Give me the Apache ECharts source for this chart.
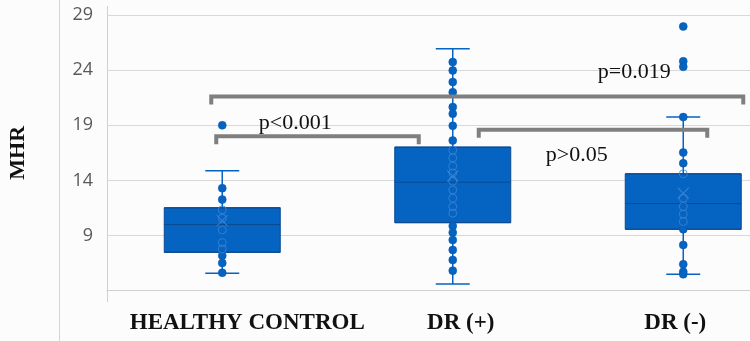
<!DOCTYPE html>
<html>
<head>
<meta charset="utf-8">
<script src="https://cdn.jsdelivr.net/npm/echarts@6/dist/echarts.min.js"></script>
<style>
  html, body { margin: 0; padding: 0; background: #fcfcfc; }
  #main { width: 750px; height: 341px; }
</style>
</head>
<body>
<div id="main"></div>
<script>
// groups on the x axis
var categories = ['HEALTHY CONTROL', 'DR (+)', 'DR (-)'];
var yTicks = [9, 14, 19, 24, 29];

// box plot summary per group (whisker low, q1, median, q3, whisker high)
var whiskerLow = [5.58, 4.61, 5.49];
var q1 = [7.48, 10.17, 9.57];
var median = [10.0, 13.84, 11.9];
var q3 = [11.52, 17.02, 14.6];
var whiskerHigh = [14.87, 25.94, 19.74];
var means = [10.35, 14.4, 12.84];

// individual MHR values
var healthyPts = [19.0, 13.3, 12.26, 11.33, 10.57, 9.51, 8.36, 7.79, 7.18, 6.51, 5.63];
var drPlusPts = [24.73, 23.97, 22.92, 22.0, 20.65, 20.04, 18.95, 17.62, 16.74, 16.05, 15.29, 14.68,
                 13.93, 13.14, 12.39, 11.63, 11.03, 9.87, 9.27, 8.6, 7.7, 6.79, 5.82];
var drMinusPts = [27.96, 24.8, 24.3, 19.74, 16.53, 15.56, 14.6, 12.39, 11.63, 10.94, 10.27, 9.57,
                  8.15, 6.4, 5.72, 5.49];

// significance brackets
var bracketFrom = [0, 0, 1];
var bracketTo = [1, 2, 2];
var bracketY = [18.0, 21.6, 18.6];
var bracketText = ['p<0.001', 'p=0.019', 'p>0.05'];

var blue = '#0563c1';
var chart = echarts.init(document.getElementById('main'));

var allPts = [healthyPts, drPlusPts, drMinusPts];
var outerPts = [], innerPts = [];
allPts.forEach(function (arr, i) {
    arr.forEach(function (v) {
        if (v > q1[i] + 0.05 && v < q3[i] + 0.05) innerPts.push([i, v]);
        else outerPts.push([i, v]);
    });
});

// label shift in px for each category (x labels in the figure are not centred on the boxes)
var labelShift = [25, 8, -8];
var xData = categories.map(function (c, i) {
    var s = labelShift[i];
    return { value: c, textStyle: { padding: s > 0 ? [0, 0, 0, 2 * s] : [0, -2 * s, 0, 0] } };
});

var option = {
    backgroundColor: '#fcfcfc',
    animation: false,
    grid: { left: 107, top: 15, width: 691.5, height: 275.7, outerBoundsMode: 'none', containLabel: false },
    xAxis: {
        type: 'category',
        data: xData,
        boundaryGap: true,
        axisLine: { show: true, lineStyle: { color: '#d0d0d0', width: 1 } },
        axisTick: { show: false },
        axisLabel: {
            interval: 0, margin: 21,
            fontFamily: 'Liberation Serif', fontWeight: 'bold', fontSize: 23, color: '#111'
        }
    },
    yAxis: {
        type: 'value', min: 4, max: 29, interval: 5,
        name: 'MHR', nameLocation: 'middle', nameGap: 78, nameRotate: 90,
        nameTextStyle: { fontFamily: 'Liberation Serif', fontWeight: 'bold', fontSize: 22, color: '#111' },
        axisLine: { show: false },
        axisTick: { show: false },
        axisLabel: {
            margin: 14, fontFamily: 'Open Sans', fontSize: 18, color: '#595959',
            formatter: function (v) { return yTicks.indexOf(v) >= 0 ? String(v) : ''; }
        },
        splitLine: { lineStyle: { color: '#d9d9d9', width: 1 } }
    },
    graphic: [
        { type: 'line', shape: { x1: 59.5, y1: 0, x2: 59.5, y2: 341 }, style: { stroke: '#d4d4d4', lineWidth: 1 } },
        { type: 'line', shape: { x1: 107.5, y1: 6, x2: 107.5, y2: 302 }, style: { stroke: '#cfcfcf', lineWidth: 1 } }
    ],
    series: [
        {
            // whiskers with short caps
            type: 'custom',
            z: 1,
            data: categories.map(function (c, i) { return [i, whiskerLow[i], whiskerHigh[i]]; }),
            renderItem: function (params, api) {
                var lo = api.coord([api.value(0), api.value(1)]);
                var hi = api.coord([api.value(0), api.value(2)]);
                var cap = 17;
                var st = { stroke: blue, lineWidth: 1.5 };
                return {
                    type: 'group',
                    children: [
                        { type: 'line', shape: { x1: lo[0], y1: lo[1], x2: hi[0], y2: hi[1] }, style: st },
                        { type: 'line', shape: { x1: lo[0] - cap, y1: lo[1], x2: lo[0] + cap, y2: lo[1] }, style: st },
                        { type: 'line', shape: { x1: hi[0] - cap, y1: hi[1], x2: hi[0] + cap, y2: hi[1] }, style: st }
                    ]
                };
            }
        },
        {
            type: 'boxplot',
            z: 2,
            boxWidth: [116, 116],
            itemStyle: { color: blue, borderColor: '#0d4a8f', borderWidth: 1 },
            data: categories.map(function (c, i) { return [q1[i], q1[i], median[i], q3[i], q3[i]]; })
        },
        {
            type: 'scatter',
            z: 3,
            symbol: 'circle',
            symbolSize: 8,
            itemStyle: { color: blue, borderColor: '#0a57ad', borderWidth: 0.5, opacity: 1 },
            data: outerPts
        },
        {
            type: 'scatter',
            z: 3,
            symbol: 'circle',
            symbolSize: 8,
            itemStyle: { color: 'rgba(0,0,0,0)', borderColor: '#3c86d6', borderWidth: 1 },
            data: innerPts
        },
        {
            type: 'scatter',
            z: 4,
            symbol: 'path://M0,0L10,10M10,0L0,10',
            symbolSize: 11,
            itemStyle: { color: 'rgba(0,0,0,0)', borderColor: '#3c86d6', borderWidth: 1.2 },
            data: means.map(function (m, i) { return [i, m]; })
        },
        {
            // significance brackets and p values
            type: 'custom',
            z: 5,
            clip: false,
            data: bracketY.map(function (y, i) { return [i, y]; }),
            renderItem: function (params, api) {
                var k = api.value(0);
                // px tweaks: [left end, right end, text dx from left end, text dy]
                var lay = [[-6, -34, 79, -13], [-11, 60, 423, -24], [26, 24, 98, 26]][k];
                var a = api.coord([bracketFrom[k], bracketY[k]]);
                var b = api.coord([bracketTo[k], bracketY[k]]);
                var x1 = a[0] + lay[0], x2 = b[0] + lay[1], y = a[1];
                var st = { stroke: '#7f7f7f', lineWidth: 4, fill: null, lineJoin: 'miter' };
                return {
                    type: 'group',
                    children: [
                        { type: 'polyline', shape: { points: [[x1, y + 8], [x1, y], [x2, y], [x2, y + 8]] }, style: st },
                        {
                            type: 'text',
                            style: {
                                text: bracketText[k], x: x1 + lay[2], y: y + lay[3],
                                align: 'center', verticalAlign: 'middle',
                                font: '22px "Liberation Serif"', fill: '#111'
                            }
                        }
                    ]
                };
            }
        }
    ]
};

chart.setOption(option);
</script>
</body>
</html>
